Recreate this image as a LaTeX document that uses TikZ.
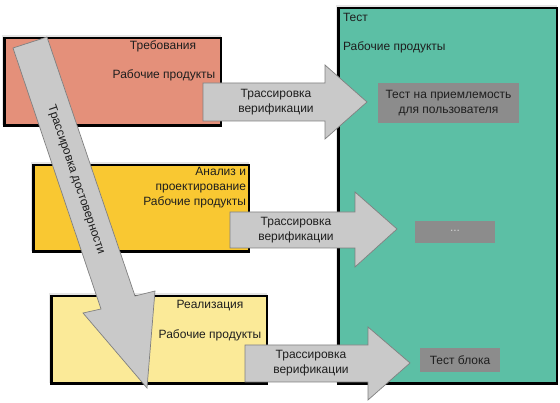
\documentclass[tikz,border=0pt]{standalone}
\usepackage{fontspec}
\setmainfont{Liberation Sans}
\definecolor{cSalmon}{HTML}{E4907A}
\definecolor{cGold}{HTML}{F9C832}
\definecolor{cCream}{HTML}{FBEA98}
\definecolor{cTeal}{HTML}{5CBFA5}
\definecolor{cArrow}{HTML}{C9C9C9}
\definecolor{cArrowEdge}{HTML}{808080}
\definecolor{cInner}{HTML}{8C8C8C}
\definecolor{cText}{HTML}{1E1E1E}
\definecolor{cShadow}{HTML}{E6E6E6}
\begin{document}
\begin{tikzpicture}[x=1pt,y=-1pt,
  phasebox/.style={draw=black, line width=2.5pt, outer sep=0pt, inner sep=0pt, anchor=north west},
  shadowbox/.style={fill=cShadow, draw=none, outer sep=0pt, inner sep=0pt, anchor=north west},
  innerbox/.style={fill=cInner, draw=none, outer sep=0pt, inner sep=0pt, anchor=north west},
  blockarrow/.style={fill=cArrow, draw=cArrowEdge, line width=0.7pt, line join=miter},
  lbl/.style={inner sep=0pt, outer sep=0pt, text=cText, font=\fontsize{12}{15}\selectfont},
]
\useasboundingbox (0,0) rectangle (560,403);
\fill[white] (0,0) rectangle (560,403);

% shadows
\node[shadowbox, minimum width=219pt, minimum height=90pt] (s1) at (2,35) {};
\node[shadowbox, minimum width=218pt, minimum height=89pt] (s2) at (31,162) {};
\node[shadowbox, minimum width=218pt, minimum height=90pt] (s3) at (49,293) {};
\node[shadowbox, minimum width=221pt, minimum height=378pt] (s4) at (336,5) {};

% phase boxes
\node[phasebox, fill=cSalmon, minimum width=216.5pt, minimum height=87.5pt] (req) at (4.25,38.25) {};
\node[phasebox, fill=cGold, minimum width=215.5pt, minimum height=86.5pt] (ana) at (33.25,165.25) {};
\node[phasebox, fill=cCream, minimum width=215.5pt, minimum height=87.5pt] (impl) at (51.25,296.25) {};
\node[phasebox, fill=cTeal, minimum width=218.5pt, minimum height=375.5pt] (test) at (338.25,8.25) {};

% inner test boxes
\node[innerbox, minimum width=141pt, minimum height=40pt] (acc) at (378,83) {};
\node[innerbox, minimum width=80pt, minimum height=22pt] (dots) at (415,221) {};
\node[innerbox, minimum width=80pt, minimum height=24pt] (unit) at (420,348) {};

% horizontal block arrows
\draw[blockarrow] (203,83) -- (325,83) -- (325,65) -- (367,102) -- (325,139) -- (325,121) -- (203,121) -- cycle;
\draw[blockarrow] (230,212) -- (355,212) -- (355,192) -- (397,229) -- (355,267) -- (355,248) -- (230,248) -- cycle;
\draw[blockarrow] (245,345) -- (368,345) -- (368,327) -- (410,363) -- (368,400) -- (368,382) -- (245,382) -- cycle;

% diagonal block arrow
\draw[blockarrow] (13,48) -- (47,37) -- (135,296) -- (155,291) -- (147,388) -- (83,313) -- (101,309) -- cycle;

% labels
\node[lbl] (reqT) at (163,46) {Требования};
\node[lbl] (reqW) at (164,75) {Рабочие продукты};
\node[lbl, align=right, anchor=east] (anaT) at (246,188) {Анализ и\\проектирование\\Рабочие продукты};
\node[lbl] (implT) at (210,306) {Реализация};
\node[lbl] (implW) at (210,335) {Рабочие продукты};
\node[lbl, anchor=west] (testT) at (343,17) {Тест};
\node[lbl, anchor=west] (testW) at (343,47) {Рабочие продукты};

\node[lbl, align=center] (a1) at (276,102) {Трассировка\\верификации};
\node[lbl, align=center] (a2) at (296,230) {Трассировка\\верификации};
\node[lbl, align=center] (a3) at (311,363) {Трассировка\\верификации};
\node[lbl, rotate=-71.2] (diag) at (76,180) {Трассировка достоверности};

\node[lbl, align=center] (accT) at (448.5,103) {Тест на приемлемость\\для пользователя};
\node[lbl, text=gray!35] (dotsT) at (455,231) {...};
\node[lbl] (unitT) at (460,360) {Тест блока};
\end{tikzpicture}
\end{document}
